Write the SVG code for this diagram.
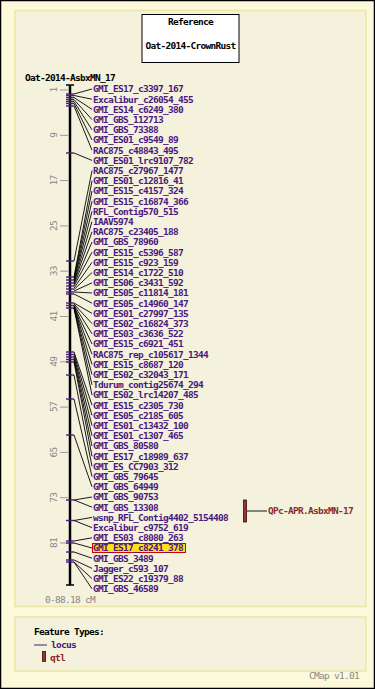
<svg xmlns="http://www.w3.org/2000/svg" width="375" height="689" viewBox="0 0 375 689">
<style>
text{font-family:"DejaVu Sans Mono","Liberation Mono",monospace;font-size:9.5px;letter-spacing:-0.72px;font-weight:bold}
.lbl{fill:#4a1a80}
.blk{fill:#000}
.gry{fill:#888;font-weight:normal}
.qt{fill:#8b2a2a}
.ft{stroke:#4a1a80;stroke-width:1.4}
.cn{stroke:#000;stroke-width:0.9;fill:none}
.tk{stroke:#999;stroke-width:1}
.pan{fill:#f4f2dc;stroke:#ece5a8;stroke-width:1.5}
</style>
<rect x="0.5" y="0.5" width="374" height="688" fill="#fdf9db" stroke="#000" stroke-width="1.5"/>
<rect class="pan" x="15" y="10.5" width="351" height="596"/>
<rect class="pan" x="15" y="617" width="351" height="54"/>
<g id="reference">
<rect x="142" y="14.5" width="97" height="48" fill="#fff" stroke="#000" stroke-width="1"/>
<text class="blk" x="190.5" y="25" text-anchor="middle">Reference</text>
<text class="blk" x="190.5" y="49" text-anchor="middle">Oat-2014-CrownRust</text>
</g>
<text class="blk" x="25" y="80.5">Oat-2014-AsbxMN_17</text>
<g id="scale">
<g class="tk">
<line x1="60" y1="90" x2="68" y2="90"/><line x1="60" y1="135.3" x2="68" y2="135.3"/><line x1="60" y1="180.6" x2="68" y2="180.6"/><line x1="60" y1="225.9" x2="68" y2="225.9"/><line x1="60" y1="271.2" x2="68" y2="271.2"/><line x1="60" y1="316.5" x2="68" y2="316.5"/><line x1="60" y1="361.8" x2="68" y2="361.8"/><line x1="60" y1="407.1" x2="68" y2="407.1"/><line x1="60" y1="452.4" x2="68" y2="452.4"/><line x1="60" y1="497.7" x2="68" y2="497.7"/><line x1="60" y1="543" x2="68" y2="543"/>
</g>
<text class="gry" transform="translate(57,90) rotate(-90)" text-anchor="middle">1</text>
<text class="gry" transform="translate(57,135.3) rotate(-90)" text-anchor="middle">9</text>
<text class="gry" transform="translate(57,180.6) rotate(-90)" text-anchor="middle">17</text>
<text class="gry" transform="translate(57,225.9) rotate(-90)" text-anchor="middle">25</text>
<text class="gry" transform="translate(57,271.2) rotate(-90)" text-anchor="middle">33</text>
<text class="gry" transform="translate(57,316.5) rotate(-90)" text-anchor="middle">41</text>
<text class="gry" transform="translate(57,361.8) rotate(-90)" text-anchor="middle">49</text>
<text class="gry" transform="translate(57,407.1) rotate(-90)" text-anchor="middle">57</text>
<text class="gry" transform="translate(57,452.4) rotate(-90)" text-anchor="middle">65</text>
<text class="gry" transform="translate(57,497.7) rotate(-90)" text-anchor="middle">73</text>
<text class="gry" transform="translate(57,543) rotate(-90)" text-anchor="middle">81</text>
<text class="gry" x="45" y="603">0-88.18 cM</text>
</g>
<g id="chromosome">
<line x1="70" y1="85" x2="70" y2="585" stroke="#000" stroke-width="2.5"/>
<line x1="66" y1="85" x2="74" y2="85" stroke="#000" stroke-width="1.5"/>
<line x1="66" y1="585" x2="74" y2="585" stroke="#000" stroke-width="1.5"/>
</g>
<g id="connectors" class="cn">
<line x1="74" y1="94" x2="92" y2="89"/>
<line x1="74" y1="95.5" x2="92" y2="99.2"/>
<line x1="74" y1="97.5" x2="92" y2="109.4"/>
<line x1="74" y1="99.5" x2="92" y2="119.6"/>
<line x1="74" y1="101.5" x2="92" y2="129.8"/>
<line x1="74" y1="103.5" x2="92" y2="140"/>
<line x1="74" y1="106" x2="92" y2="150.2"/>
<line x1="74" y1="153" x2="92" y2="160.4"/>
<line x1="74" y1="261" x2="92" y2="170.6"/>
<line x1="74" y1="277" x2="92" y2="180.8"/>
<line x1="74" y1="278" x2="92" y2="191"/>
<line x1="74" y1="279.5" x2="92" y2="201.2"/>
<line x1="74" y1="280.5" x2="92" y2="211.4"/>
<line x1="74" y1="282" x2="92" y2="221.6"/>
<line x1="74" y1="283" x2="92" y2="231.8"/>
<line x1="74" y1="284.5" x2="92" y2="242"/>
<line x1="74" y1="286" x2="92" y2="252.2"/>
<line x1="74" y1="288" x2="92" y2="262.4"/>
<line x1="74" y1="289.5" x2="92" y2="272.6"/>
<line x1="74" y1="291" x2="92" y2="282.8"/>
<line x1="74" y1="292" x2="92" y2="293"/>
<line x1="74" y1="294" x2="92" y2="303.2"/>
<line x1="74" y1="303" x2="92" y2="313.4"/>
<line x1="74" y1="304" x2="92" y2="323.6"/>
<line x1="74" y1="305" x2="92" y2="333.8"/>
<line x1="74" y1="306" x2="92" y2="344"/>
<line x1="74" y1="306.5" x2="92" y2="354.2"/>
<line x1="74" y1="307" x2="92" y2="364.4"/>
<line x1="74" y1="307.5" x2="92" y2="374.6"/>
<line x1="74" y1="308" x2="92" y2="384.8"/>
<line x1="74" y1="308.5" x2="92" y2="395"/>
<line x1="74" y1="352" x2="92" y2="405.2"/>
<line x1="74" y1="354" x2="92" y2="415.4"/>
<line x1="74" y1="356" x2="92" y2="425.6"/>
<line x1="74" y1="358" x2="92" y2="435.8"/>
<line x1="74" y1="360" x2="92" y2="446"/>
<line x1="74" y1="362" x2="92" y2="456.2"/>
<line x1="74" y1="375" x2="92" y2="466.4"/>
<line x1="74" y1="399" x2="92" y2="476.6"/>
<line x1="74" y1="435" x2="92" y2="486.8"/>
<line x1="74" y1="500" x2="92" y2="497"/>
<line x1="74" y1="500" x2="92" y2="507.2"/>
<line x1="74" y1="520.5" x2="92" y2="517.4"/>
<line x1="74" y1="520.5" x2="92" y2="527.6"/>
<line x1="74" y1="541" x2="92" y2="537.8"/>
<line x1="74" y1="543" x2="92" y2="548"/>
<line x1="74" y1="552" x2="92" y2="558.2"/>
<line x1="74" y1="560" x2="92" y2="568.4"/>
<line x1="74" y1="562" x2="92" y2="578.6"/>
<line x1="74" y1="562" x2="92" y2="588.8"/>
<line x1="247" y1="511" x2="267" y2="511"/>
</g>
<g id="features" class="ft">
<line x1="66" y1="94" x2="74" y2="94"/><line x1="66" y1="95.5" x2="74" y2="95.5"/><line x1="66" y1="97.5" x2="74" y2="97.5"/><line x1="66" y1="99.5" x2="74" y2="99.5"/><line x1="66" y1="101.5" x2="74" y2="101.5"/><line x1="66" y1="103.5" x2="74" y2="103.5"/><line x1="66" y1="106" x2="74" y2="106"/>
<line x1="66" y1="153" x2="74" y2="153"/><line x1="66" y1="261" x2="74" y2="261"/>
<line x1="66" y1="277" x2="74" y2="277"/><line x1="66" y1="280" x2="74" y2="280"/><line x1="66" y1="283" x2="74" y2="283"/><line x1="66" y1="286" x2="74" y2="286"/><line x1="66" y1="289" x2="74" y2="289"/><line x1="66" y1="292" x2="74" y2="292"/><line x1="66" y1="294" x2="74" y2="294"/>
<line x1="66" y1="303" x2="74" y2="303"/><line x1="66" y1="305.5" x2="74" y2="305.5"/><line x1="66" y1="308" x2="74" y2="308"/>
<line x1="66" y1="352" x2="74" y2="352"/><line x1="66" y1="354.5" x2="74" y2="354.5"/><line x1="66" y1="357" x2="74" y2="357"/><line x1="66" y1="359.5" x2="74" y2="359.5"/><line x1="66" y1="362" x2="74" y2="362"/>
<line x1="66" y1="375" x2="74" y2="375"/><line x1="66" y1="399" x2="74" y2="399"/><line x1="66" y1="435" x2="74" y2="435"/>
<line x1="66" y1="500" x2="74" y2="500"/><line x1="66" y1="520.5" x2="74" y2="520.5"/><line x1="66" y1="541" x2="74" y2="541"/><line x1="66" y1="543" x2="74" y2="543"/><line x1="66" y1="552" x2="74" y2="552"/><line x1="66" y1="560" x2="74" y2="560"/><line x1="66" y1="562" x2="74" y2="562"/>
</g>
<g id="labels">
<text id="m1" class="lbl" x="93" y="92.3">GMI_ES17_c3397_167</text>
<text id="m2" class="lbl" x="93" y="102.5">Excalibur_c26054_455</text>
<text id="m3" class="lbl" x="93" y="112.7">GMI_ES14_c6249_380</text>
<text id="m4" class="lbl" x="93" y="122.9">GMI_GBS_112713</text>
<text id="m5" class="lbl" x="93" y="133.1">GMI_GBS_73388</text>
<text id="m6" class="lbl" x="93" y="143.3">GMI_ES01_c9549_89</text>
<text id="m7" class="lbl" x="93" y="153.5">RAC875_c48843_495</text>
<text id="m8" class="lbl" x="93" y="163.7">GMI_ES01_lrc9107_782</text>
<text id="m9" class="lbl" x="93" y="173.9">RAC875_c27967_1477</text>
<text id="m10" class="lbl" x="93" y="184.1">GMI_ES01_c12816_41</text>
<text id="m11" class="lbl" x="93" y="194.3">GMI_ES15_c4157_324</text>
<text id="m12" class="lbl" x="93" y="204.5">GMI_ES15_c16874_366</text>
<text id="m13" class="lbl" x="93" y="214.7">RFL_Contig570_515</text>
<text id="m14" class="lbl" x="93" y="224.9">IAAV5974</text>
<text id="m15" class="lbl" x="93" y="235.1">RAC875_c23405_188</text>
<text id="m16" class="lbl" x="93" y="245.3">GMI_GBS_78960</text>
<text id="m17" class="lbl" x="93" y="255.5">GMI_ES15_c5396_587</text>
<text id="m18" class="lbl" x="93" y="265.7">GMI_ES15_c923_159</text>
<text id="m19" class="lbl" x="93" y="275.9">GMI_ES14_c1722_510</text>
<text id="m20" class="lbl" x="93" y="286.1">GMI_ES06_c3431_592</text>
<text id="m21" class="lbl" x="93" y="296.3">GMI_ES05_c11814_181</text>
<text id="m22" class="lbl" x="93" y="306.5">GMI_ES05_c14960_147</text>
<text id="m23" class="lbl" x="93" y="316.7">GMI_ES01_c27997_135</text>
<text id="m24" class="lbl" x="93" y="326.9">GMI_ES02_c16824_373</text>
<text id="m25" class="lbl" x="93" y="337.1">GMI_ES03_c3636_522</text>
<text id="m26" class="lbl" x="93" y="347.3">GMI_ES15_c6921_451</text>
<text id="m27" class="lbl" x="93" y="357.5">RAC875_rep_c105617_1344</text>
<text id="m28" class="lbl" x="93" y="367.7">GMI_ES15_c8687_120</text>
<text id="m29" class="lbl" x="93" y="377.9">GMI_ES02_c32043_171</text>
<text id="m30" class="lbl" x="93" y="388.1">Tdurum_contig25674_294</text>
<text id="m31" class="lbl" x="93" y="398.3">GMI_ES02_lrc14207_485</text>
<text id="m32" class="lbl" x="93" y="408.5">GMI_ES15_c2305_730</text>
<text id="m33" class="lbl" x="93" y="418.7">GMI_ES05_c2185_605</text>
<text id="m34" class="lbl" x="93" y="428.9">GMI_ES01_c13432_100</text>
<text id="m35" class="lbl" x="93" y="439.1">GMI_ES01_c1307_465</text>
<text id="m36" class="lbl" x="93" y="449.3">GMI_GBS_80580</text>
<text id="m37" class="lbl" x="93" y="459.5">GMI_ES17_c18989_637</text>
<text id="m38" class="lbl" x="93" y="469.7">GMI_ES_CC7903_312</text>
<text id="m39" class="lbl" x="93" y="479.9">GMI_GBS_79645</text>
<text id="m40" class="lbl" x="93" y="490.1">GMI_GBS_64949</text>
<text id="m41" class="lbl" x="93" y="500.3">GMI_GBS_90753</text>
<text id="m42" class="lbl" x="93" y="510.5">GMI_GBS_13308</text>
<text id="m43" class="lbl" x="93" y="520.7">wsnp_RFL_Contig4402_5154408</text>
<text id="m44" class="lbl" x="93" y="530.9">Excalibur_c9752_619</text>
<text id="m45" class="lbl" x="93" y="541.1">GMI_ES03_c8080_263</text>
<g id="m46">
<rect x="92.5" y="543.5" width="93" height="9" fill="#ffe01a" stroke="#d40000" stroke-width="1"/>
<text class="lbl" x="93" y="551.3">GMI_ES17_c8241_378</text>
</g>
<text id="m47" class="lbl" x="93" y="561.5">GMI_GBS_3489</text>
<text id="m48" class="lbl" x="93" y="571.7">Jagger_c593_107</text>
<text id="m49" class="lbl" x="93" y="581.9">GMI_ES22_c19379_88</text>
<text id="m50" class="lbl" x="93" y="592.1">GMI_GBS_46589</text>
</g>
<g id="qtl">
<rect x="243.5" y="500" width="3" height="22" fill="#993333" stroke="#3a0a0a" stroke-width="0.8"/>
<text class="qt" x="268" y="514.3">QPc-APR.AsbxMN-17</text>
</g>
<g id="legend">
<text class="blk" x="34" y="635">Feature Types:</text>
<line x1="34" y1="645" x2="47" y2="645" stroke="#4a1a80" stroke-width="1"/>
<text class="lbl" x="51" y="648">locus</text>
<rect x="42.5" y="651.5" width="3" height="10" fill="#993333" stroke="#3a0a0a" stroke-width="0.8"/>
<text class="qt" x="50" y="661">qtl</text>
</g>
<text class="gry" x="309" y="679">CMap v1.01</text>
</svg>
